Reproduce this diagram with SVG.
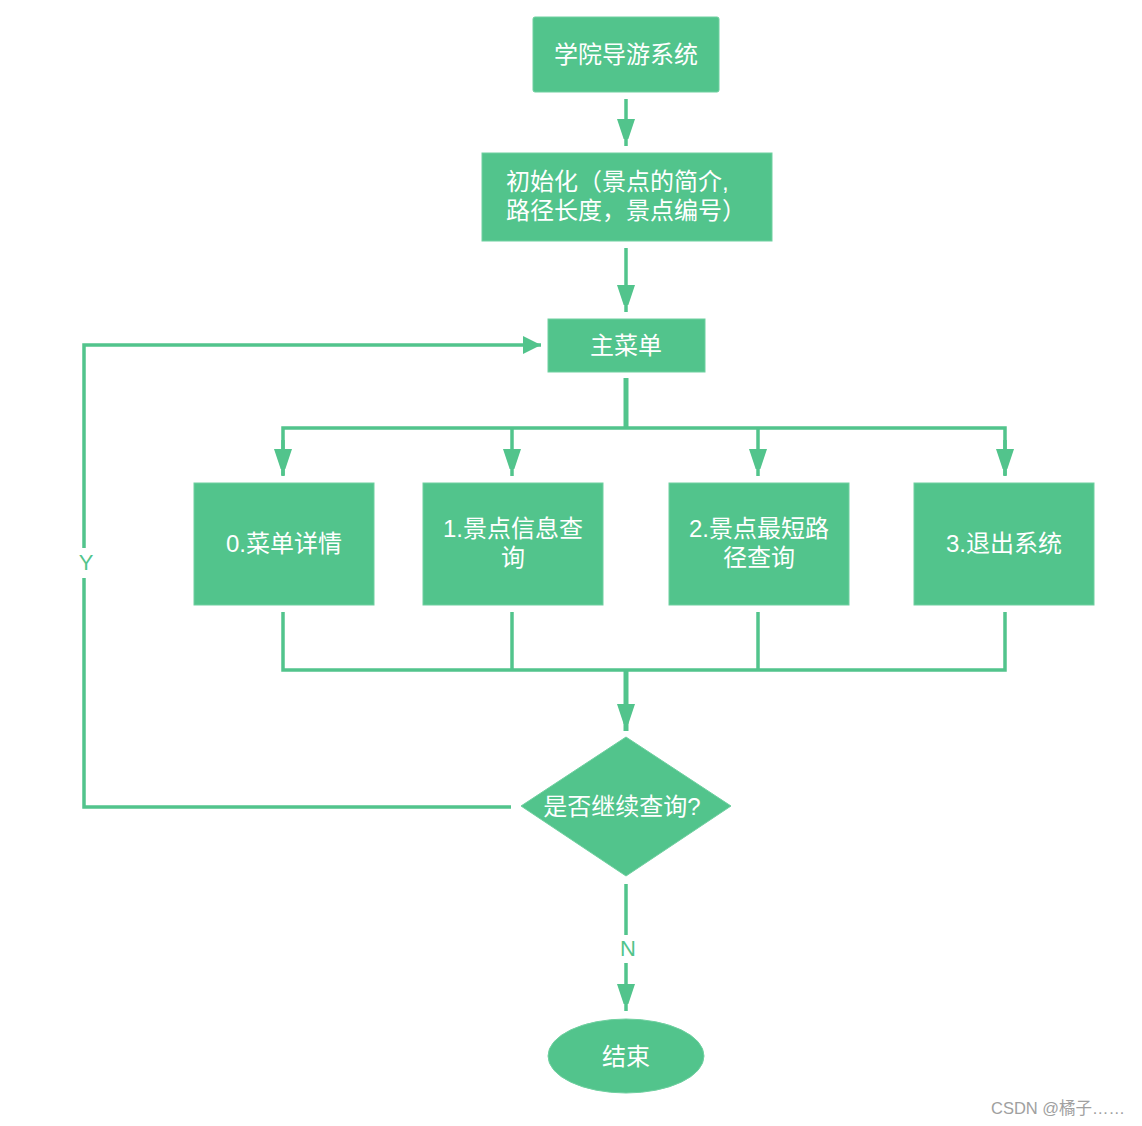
<svg xmlns="http://www.w3.org/2000/svg" width="1142" height="1126" viewBox="0 0 1142 1126">
<style>
.n{fill:#52c48c;stroke:#6fd0a0;stroke-width:1}
.t{font-family:"Liberation Sans","Noto Sans CJK SC",sans-serif;font-size:24px;fill:#ffffff;text-anchor:middle}
.c{fill:none;stroke:#52c48c;stroke-width:3.5}
.ck{fill:none;stroke:#52c48c;stroke-width:5}
.lb{font-family:"Liberation Sans","Noto Sans CJK SC",sans-serif;font-size:22px;fill:#52c48c;text-anchor:middle}
.wm{font-family:"Liberation Sans","Noto Sans CJK SC",sans-serif;font-size:16.5px;fill:#a0a0a0}
</style>
<defs>
<marker id="ah" markerUnits="userSpaceOnUse" markerWidth="20" markerHeight="28" refX="18" refY="10" orient="auto">
<path d="M0,1 L18,10 L0,19 Z" fill="#52c48c"/>
</marker>
<marker id="av" markerUnits="userSpaceOnUse" markerWidth="28" markerHeight="20" refX="10" refY="27" orient="0">
<path d="M1,0 L19,0 L10,27 Z" fill="#52c48c"/>
</marker>
</defs>
<rect width="1142" height="1126" fill="#ffffff"/>
<g id="connectors">
<line class="c" x1="626" y1="99" x2="626" y2="146" marker-end="url(#av)"/>
<line class="c" x1="626" y1="248" x2="626" y2="312" marker-end="url(#av)"/>
<line class="ck" x1="626" y1="378" x2="626" y2="428"/>
<polyline class="c" points="283,475 283,428 1005,428 1005,475"/>
<line class="c" x1="283" y1="440" x2="283" y2="476" marker-end="url(#av)"/>
<line class="c" x1="512" y1="428" x2="512" y2="476" marker-end="url(#av)"/>
<line class="c" x1="758" y1="428" x2="758" y2="476" marker-end="url(#av)"/>
<line class="c" x1="1005" y1="440" x2="1005" y2="476" marker-end="url(#av)"/>
<polyline class="c" points="283,612 283,670 1005,670 1005,612"/>
<line class="c" x1="512" y1="612" x2="512" y2="670"/>
<line class="c" x1="758" y1="612" x2="758" y2="670"/>
<line class="ck" x1="626" y1="670" x2="626" y2="731" marker-end="url(#av)"/>
<polyline class="c" points="511,807 84,807 84,578"/>
<polyline class="c" points="84,548 84,345 541,345" marker-end="url(#ah)"/>
<text class="lb" x="86" y="570">Y</text>
<line class="c" x1="626" y1="884" x2="626" y2="935"/>
<text class="lb" x="628" y="956">N</text>
<line class="c" x1="626" y1="963" x2="626" y2="1011" marker-end="url(#av)"/>
</g>
<g id="start">
<rect class="n" x="533" y="17" width="186" height="75" rx="2"/>
<text class="t" x="626" y="63">学院导游系统</text>
</g>
<g id="init">
<rect class="n" x="482" y="153" width="290" height="88"/>
<text class="t" x="506" y="190" style="text-anchor:start">初始化（景点的简介,</text>
<text class="t" x="506" y="219" style="text-anchor:start">路径长度，景点编号）</text>
</g>
<g id="menu">
<rect class="n" x="548" y="319" width="157" height="53"/>
<text class="t" x="626" y="354">主菜单</text>
</g>
<g id="opt0">
<rect class="n" x="194" y="483" width="180" height="122"/>
<text class="t" x="284" y="552">0.菜单详情</text>
</g>
<g id="opt1">
<rect class="n" x="423" y="483" width="180" height="122"/>
<text class="t" x="513" y="537">1.景点信息查</text>
<text class="t" x="513" y="566">询</text>
</g>
<g id="opt2">
<rect class="n" x="669" y="483" width="180" height="122"/>
<text class="t" x="759" y="537">2.景点最短路</text>
<text class="t" x="759" y="566">径查询</text>
</g>
<g id="opt3">
<rect class="n" x="914" y="483" width="180" height="122"/>
<text class="t" x="1004" y="552">3.退出系统</text>
</g>
<g id="decision">
<polygon class="n" points="626,737 731,806 626,876 521,806"/>
<text class="t" x="622" y="815">是否继续查询?</text>
</g>
<g id="end">
<ellipse class="n" cx="626" cy="1056" rx="78" ry="37"/>
<text class="t" x="626" y="1065">结束</text>
</g>
<text class="wm" x="991" y="1114">CSDN @橘子……</text>
</svg>
